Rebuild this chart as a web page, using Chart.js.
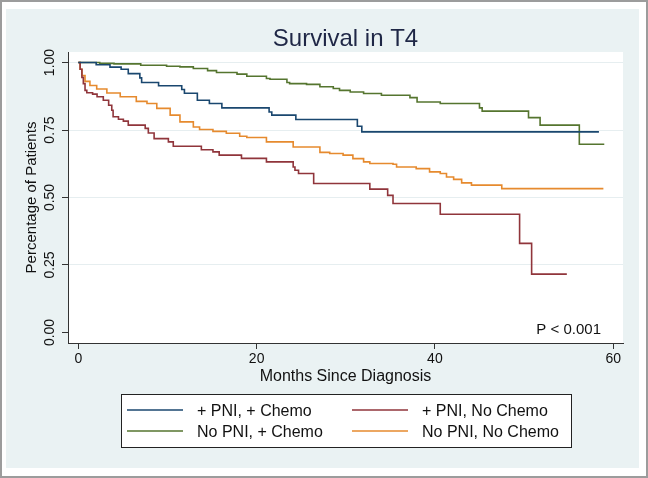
<!DOCTYPE html>
<html>
<head>
<meta charset="utf-8">
<title>Survival in T4</title>
<script src="https://cdn.jsdelivr.net/npm/chart.js@4.4.1/dist/chart.umd.min.js"></script>
<style>
  html, body { margin: 0; padding: 0; background: #ffffff; }
  canvas { display: block; }
</style>
</head>
<body>
<canvas id="kmChart" width="648" height="478"></canvas>
<script>
// Kaplan-Meier curves (months, survival)
const seriesLabels = ["+ PNI, + Chemo", "+ PNI, No Chemo", "No PNI, + Chemo", "No PNI, No Chemo"]
const seriesColors = ["#1a476f", "#90353b", "#55752f", "#e68a2e"]

const pniChemoT = [0, 2.0, 3.55, 4.8, 5.6, 6.9, 7.1, 9.0, 11.6, 11.9, 13.35, 14.7, 16.1, 21.4, 21.7, 24.4, 31.3, 31.8, 58.4]
const pniChemoS = [1, 0.992, 0.983, 0.975, 0.959, 0.943, 0.926, 0.914, 0.9, 0.886, 0.86, 0.848, 0.832, 0.817, 0.805, 0.789, 0.764, 0.743, 0.743]

const pniNoChemoT = [0, 0.2, 0.4, 0.56, 0.75, 0.95, 1.6, 2.1, 2.8, 3.4, 3.75, 3.9, 4.5, 5.05, 5.6, 7.5, 7.85, 8.5, 10.1, 10.65, 13.8, 15.1, 15.8, 18.3, 21.1, 24.1, 24.3, 24.7, 26.4, 32.7, 34.7, 35.3, 40.6, 49.5, 50.85, 54.8]
const pniNoChemoS = [1, 0.975, 0.945, 0.922, 0.897, 0.888, 0.883, 0.873, 0.86, 0.842, 0.823, 0.799, 0.79, 0.783, 0.768, 0.756, 0.739, 0.718, 0.706, 0.69, 0.677, 0.669, 0.657, 0.645, 0.632, 0.613, 0.601, 0.589, 0.552, 0.531, 0.508, 0.478, 0.438, 0.33, 0.216, 0.216]

const noPniChemoT = [0, 2.4, 4.0, 7.0, 9.9, 11.4, 12.9, 14.5, 15.5, 17.8, 18.9, 21.1, 21.5, 23.4, 23.7, 25.6, 27.1, 28.6, 29.3, 30.5, 32.0, 34.0, 37.2, 38.0, 40.6, 45.0, 45.3, 50.5, 51.8, 56.2, 59.0]
const noPniChemoS = [1, 0.997, 0.995, 0.99, 0.986, 0.984, 0.978, 0.97, 0.963, 0.957, 0.949, 0.941, 0.938, 0.926, 0.922, 0.919, 0.91, 0.904, 0.897, 0.891, 0.885, 0.879, 0.87, 0.854, 0.848, 0.832, 0.82, 0.796, 0.768, 0.697, 0.697]

const noPniNoChemoT = [0, 0.2, 0.4, 0.75, 1.3, 2.06, 3.2, 4.7, 6.5, 7.7, 8.8, 10.3, 11.4, 12.9, 13.6, 15.1, 16.6, 18.1, 18.9, 21.1, 24.1, 27.1, 28.2, 29.7, 30.8, 32.0, 32.7, 35.3, 35.7, 37.9, 39.4, 40.6, 41.3, 42.1, 43.0, 44.1, 47.5, 58.9]
const noPniNoChemoS = [1, 0.975, 0.952, 0.93, 0.915, 0.902, 0.887, 0.873, 0.856, 0.848, 0.83, 0.805, 0.78, 0.761, 0.752, 0.745, 0.738, 0.727, 0.722, 0.706, 0.687, 0.667, 0.663, 0.657, 0.644, 0.632, 0.626, 0.623, 0.613, 0.607, 0.595, 0.589, 0.576, 0.567, 0.554, 0.546, 0.533, 0.533]

const xTicks = [0, 20, 40, 60]
const yTicks = [0, 0.25, 0.5, 0.75, 1]
const yTickLabels = ["0.00", "0.25", "0.50", "0.75", "1.00"]

const FONT = "'Liberation Sans', Arial, Helvetica, sans-serif"

function toPoints(ts, ss) {
  return ts.map((t, i) => ({ x: t, y: ss[i] }))
}

const seriesT = [pniChemoT, pniNoChemoT, noPniChemoT, noPniNoChemoT]
const seriesS = [pniChemoS, pniNoChemoS, noPniChemoS, noPniNoChemoS]

// Background frame, title, rotated y labels and the boxed legend
const stataLook = {
  id: "stataLook",
  beforeDraw(chart) {
    const { ctx, chartArea: a, width, height } = chart
    ctx.save()
    ctx.fillStyle = "#ffffff"
    ctx.fillRect(0, 0, width, height)
    ctx.strokeStyle = "#9c9c9c"
    ctx.lineWidth = 2
    ctx.strokeRect(1, 1, width - 2, height - 2)
    ctx.fillStyle = "#eaf2f3"
    ctx.fillRect(6, 9, 633, 459)
    ctx.fillStyle = "#ffffff"
    ctx.fillRect(a.left, a.top, a.right - a.left, a.bottom - a.top)
    ctx.restore()
  },
  afterDraw(chart) {
    const { ctx, chartArea: a } = chart
    const xs = chart.scales.x
    const ys = chart.scales.y
    ctx.save()

    // title
    ctx.fillStyle = "#1f2746"
    ctx.font = "24px " + FONT
    ctx.textAlign = "center"
    ctx.textBaseline = "alphabetic"
    ctx.fillText("Survival in T4", (a.left + a.right) / 2, 46)

    // x tick labels + title
    ctx.fillStyle = "#111111"
    ctx.font = "14px " + FONT
    xTicks.forEach((v) => {
      ctx.fillText(String(v), xs.getPixelForValue(v), 363)
    })
    ctx.font = "16px " + FONT
    ctx.fillText("Months Since Diagnosis", (a.left + a.right) / 2, 381)

    // y tick labels, rotated
    ctx.font = "14px " + FONT
    yTicks.forEach((v, i) => {
      ctx.save()
      ctx.translate(53.5, ys.getPixelForValue(v))
      ctx.rotate(-Math.PI / 2)
      ctx.fillText(yTickLabels[i], 0, 0)
      ctx.restore()
    })
    ctx.save()
    ctx.font = "15px " + FONT
    ctx.translate(36, ys.getPixelForValue(0.5))
    ctx.rotate(-Math.PI / 2)
    ctx.fillText("Percentage of Patients", 0, 0)
    ctx.restore()

    // p-value note
    ctx.textAlign = "right"
    ctx.font = "15px " + FONT
    ctx.fillText("P < 0.001", 601, 334)

    // legend box
    ctx.fillStyle = "#ffffff"
    ctx.fillRect(121, 394, 450, 53)
    ctx.strokeStyle = "#222222"
    ctx.lineWidth = 1
    ctx.strokeRect(121.5, 394.5, 450, 53)
    const cols = [127, 352]
    const rows = [410, 431]
    ctx.textAlign = "left"
    ctx.font = "16px " + FONT
    chart.data.datasets.forEach((ds, i) => {
      const cx = cols[i % 2]
      const cy = rows[Math.floor(i / 2)]
      ctx.strokeStyle = ds.borderColor
      ctx.lineWidth = 1.5
      ctx.beginPath()
      ctx.moveTo(cx, cy)
      ctx.lineTo(cx + 56, cy)
      ctx.stroke()
      ctx.fillStyle = "#111111"
      ctx.fillText(ds.label, cx + 70, cy + 6)
    })
    ctx.restore()
  },
}

const datasets = seriesLabels.map((label, i) => ({
  label: label,
  data: toPoints(seriesT[i], seriesS[i]),
  borderColor: seriesColors[i],
  borderWidth: 1.6,
  pointRadius: 0,
  fill: false,
  stepped: "before",
}))

new Chart(document.getElementById("kmChart"), {
  type: "line",
  data: { datasets: datasets },
  options: {
    responsive: false,
    animation: false,
    devicePixelRatio: 1,
    layout: { padding: { top: 52, right: 25, left: 0, bottom: 0 } },
    plugins: {
      legend: { display: false },
      title: { display: false },
      tooltip: { enabled: false },
    },
    scales: {
      x: {
        type: "linear",
        min: -1.16,
        max: 61.1,
        afterBuildTicks: (scale) => {
          scale.ticks = xTicks.map((v) => ({ value: v }))
        },
        afterFit: (scale) => {
          scale.height = 135
        },
        ticks: { display: false },
        grid: { drawOnChartArea: false, drawTicks: true, tickLength: 6, tickColor: "#333333" },
        border: { display: true, color: "#333333", width: 1 },
      },
      y: {
        type: "linear",
        min: -0.039,
        max: 1.039,
        afterBuildTicks: (scale) => {
          scale.ticks = yTicks.map((v) => ({ value: v }))
        },
        afterFit: (scale) => {
          scale.width = 68
        },
        ticks: { display: false },
        grid: {
          color: (c) => (c.tick && c.tick.value === 0 ? "rgba(0,0,0,0)" : "#e6eef0"),
          lineWidth: 1,
          drawTicks: true,
          tickLength: 6,
          tickColor: "#333333",
        },
        border: { display: true, color: "#333333", width: 1 },
      },
    },
  },
  plugins: [stataLook],
})
</script>
</body>
</html>
